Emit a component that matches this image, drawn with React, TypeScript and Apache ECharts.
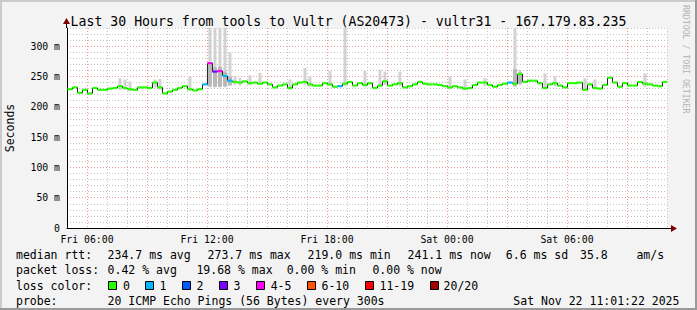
import React, { useEffect, useRef } from 'react';
import * as echarts from 'echarts';

// time in minutes from Fri 00:00
const START_MIN = 301.37; // Fri 05:01:22
const STEP_MIN = 15;

const medianRtt = [
  229, 232, 223, 228, 222, 231, 228, 228, 230, 231, 234, 231, 229, 228, 232, 232, 231, 240, 232, 222,
  225, 228, 231, 234, 229, 227, 229, 237, 272, 258, 259, 251, 243, 241, 240, 242, 239, 240, 238, 240,
  237, 232, 235, 237, 231, 237, 240, 241, 237, 235, 235, 239, 237, 233, 234, 238, 241, 235, 239, 236,
  239, 231, 235, 242, 235, 237, 239, 232, 234, 237, 241, 238, 237, 237, 236, 234, 232, 234, 232, 230,
  231, 236, 240, 240, 236, 233, 236, 238, 240, 238, 254, 241, 243, 243, 239, 231, 237, 239, 235, 232,
  239, 239, 240, 228, 237, 231, 230, 236, 248, 240, 233, 239, 235, 235, 241, 238, 237, 235, 234, 241,
];

const lossCount = [
  0, 0, 0, 0, 0, 0, 0, 0, 0, 0, 0, 0, 0, 0, 0, 0, 0, 0, 0, 0,
  0, 0, 0, 0, 0, 0, 0, 1, 4, 3, 4, 1, 1, 0, 0, 0, 0, 0, 0, 0,
  0, 0, 0, 0, 0, 0, 0, 0, 0, 0, 0, 0, 0, 0, 1, 0, 0, 0, 0, 0,
  0, 0, 0, 0, 0, 0, 0, 0, 0, 0, 0, 0, 0, 0, 0, 0, 0, 0, 0, 0,
  0, 0, 0, 0, 0, 0, 0, 0, 1, 0, 0, 0, 0, 0, 0, 0, 0, 0, 0, 0,
  0, 0, 0, 0, 0, 0, 0, 0, 0, 0, 0, 0, 0, 0, 0, 0, 0, 0, 0, 0,
];

// light smoke (spread of the 20 pings)
const smokeIndex = [10, 11, 12, 17, 18, 24, 28, 29, 30, 31, 32, 33, 34, 36, 38, 44, 47, 48, 52, 55, 59, 62, 63, 66, 76, 79, 83, 89, 90, 95, 97, 103, 105, 115];
const smokeLow = [228, 228, 226, 232, 228, 226, 232, 232, 232, 232, 234, 236, 235, 236, 236, 228, 236, 233, 234, 234, 233, 232, 236, 234, 229, 227, 234, 233, 236, 229, 234, 226, 229, 233];
const smokeHigh = [247, 245, 242, 245, 246, 250, 335, 335, 335, 335, 290, 250, 248, 252, 256, 245, 264, 250, 259, 335, 259, 261, 258, 258, 250, 245, 247, 335, 261, 255, 250, 247, 245, 255];

// darker smoke core
const coreIndex = [28, 29, 30, 31, 32, 89, 90];
const coreLow = [234, 233, 233, 234, 236, 234, 238];
const coreHigh = [270, 265, 266, 258, 250, 262, 257];

const xLabelValues = [360, 720, 1080, 1440, 1800];
const xLabelTexts = ['Fri 06:00', 'Fri 12:00', 'Fri 18:00', 'Sat 00:00', 'Sat 06:00'];
const yLabelValues = [0, 50, 100, 150, 200, 250, 300];
const yLabelTexts = ['0', '50 m', '100 m', '150 m', '200 m', '250 m', '300 m'];

const titleText = 'Last 30 Hours from tools to Vultr (AS20473) - vultr31 - 167.179.83.235';
const rttStats = ['234.7 ms avg', '273.7 ms max', '219.0 ms min', '241.1 ms now', '6.6 ms sd', '35.8', 'am/s'];
const lossStats = ['0.42 % avg', '19.68 % max', '0.00 % min', '0.00 % now'];
const lossLabels = ['0', '1', '2', '3', '4-5', '6-10', '11-19', '20/20'];
const lossColors = ['#26ff00', '#00b8ff', '#0059ff', '#7e00ff', '#ff00ff', '#ff5500', '#ff0000', '#a10000'];
const probeText = '20 ICMP Echo Pings (56 Bytes) every 300s';
const dateText = 'Sat Nov 22 11:01:22 2025';

const MONO = '"DejaVu Sans Mono", monospace';

function colorForLoss(n: number): string {
  if (n <= 0) return lossColors[0];
  if (n === 1) return lossColors[1];
  if (n === 2) return lossColors[2];
  if (n === 3) return lossColors[3];
  if (n <= 5) return lossColors[4];
  if (n <= 10) return lossColors[5];
  if (n <= 19) return lossColors[6];
  return lossColors[7];
}

function buildOption() {
  const medianData = medianRtt.map((v, i) => [
    START_MIN + i * STEP_MIN,
    v,
    lossCount[i],
    i === 0 ? v : medianRtt[i - 1],
  ]);
  const smokeData = smokeIndex.map((k, j) => [START_MIN + k * STEP_MIN, smokeLow[j], smokeHigh[j]]);
  const coreData = coreIndex.map((k, j) => [START_MIN + k * STEP_MIN, coreLow[j], coreHigh[j]]);

  const bandRender = (fill: string, frac: number) => (params: any, api: any) => {
    const t = api.value(0);
    const lo = api.value(1);
    const hi = api.value(2);
    const a = api.coord([t, hi]);
    const b = api.coord([t + STEP_MIN, lo]);
    const w = b[0] - a[0];
    const cs = params.coordSys;
    const top = Math.max(a[1], cs.y);
    return {
      type: 'rect',
      shape: { x: a[0] + (w * (1 - frac)) / 2, y: top, width: w * frac, height: b[1] - top },
      style: { fill },
    };
  };

  const graphics: any[] = [];
  const txt = (text: string, x: number, y: number, size = 11.5, extra: any = {}) =>
    graphics.push({
      type: 'text',
      x,
      y,
      style: { text, font: `${size}px ${MONO}`, fill: '#000', textVerticalAlign: 'middle', ...extra },
      z: 10,
    });

  const rttX = [107.6, 207.6, 307.6, 407.6, 505.8, 580, 636.4];
  const lossX = [107.6, 196.4, 286.7, 372.4];
  const boxX = [108.5, 145.5, 182.5, 219.5, 256.5, 307.5, 365.5, 430.5];
  const boxLabelX = [123, 159.5, 196.5, 233.5, 270.7, 321.5, 379.5, 443.6];
  const L1 = 254.5, L2 = 270, L3 = 285.5, L4 = 301;

  txt('median rtt:', 16, L1);
  rttStats.forEach((s, k) => txt(s, rttX[k], L1));
  txt('packet loss:', 16, L2);
  lossStats.forEach((s, k) => txt(s, lossX[k], L2));
  txt('loss color:', 16, L3);
  lossLabels.forEach((s, k) => {
    graphics.push({
      type: 'rect',
      shape: { x: boxX[k], y: Math.round(L3) - 4.5, width: 8, height: 8 },
      style: { fill: lossColors[k], stroke: '#000', lineWidth: 1 },
      z: 10,
    });
    txt(s, boxLabelX[k], L3);
  });
  txt('probe:', 16, L4);
  txt(probeText, 107.6, L4);
  txt(dateText, 513.3, L4);

  // vertical watermark
  graphics.push({
    type: 'text',
    x: 686,
    y: 5,
    rotation: -Math.PI / 2,
    style: { text: 'RRDTOOL / TOBI OETIKER', font: `8.2px ${MONO}`, fill: '#b4b4b4', textVerticalAlign: 'middle' },
    z: 10,
  });

  // axis arrows
  graphics.push({ type: 'line', shape: { x1: 667, y1: 228.5, x2: 672, y2: 228.5 }, style: { stroke: '#000', lineWidth: 1 }, z: 10 });
  graphics.push({ type: 'polygon', shape: { points: [[671, 225], [677, 228.5], [671, 232]] }, style: { fill: '#7f0000' }, z: 10 });
  graphics.push({ type: 'line', shape: { x1: 66.5, y1: 28, x2: 66.5, y2: 23 }, style: { stroke: '#000', lineWidth: 1 }, z: 10 });
  graphics.push({ type: 'polygon', shape: { points: [[63, 24], [66.5, 18], [70, 24]] }, style: { fill: '#7f0000' }, z: 10 });

  // frame
  graphics.push({ type: 'rect', shape: { x: 0, y: 0, width: 697, height: 2 }, style: { fill: '#cbcbcb' }, z: 10 });
  graphics.push({ type: 'rect', shape: { x: 0, y: 0, width: 2, height: 310 }, style: { fill: '#cbcbcb' }, z: 10 });
  graphics.push({ type: 'rect', shape: { x: 0, y: 308, width: 697, height: 2 }, style: { fill: '#999999' }, z: 10 });
  graphics.push({ type: 'rect', shape: { x: 695, y: 0, width: 2, height: 310 }, style: { fill: '#999999' }, z: 10 });

  const GRAY = '#c4c4c4';
  const RED = '#eb9a9a';

  return {
    animation: false,
    backgroundColor: '#f3f3f3',
    title: {
      text: titleText,
      left: 'center',
      top: 10,
      textStyle: { fontFamily: MONO, fontSize: 13.2, fontWeight: 'normal', color: '#000' },
    },
    grid: {
      left: 67,
      top: 28,
      width: 600,
      height: 200,
      show: true,
      backgroundColor: '#ffffff',
      borderWidth: 0,
      containLabel: false,
      outerBoundsMode: 'none',
    },
    xAxis: {
      type: 'value',
      min: 300,
      max: 2100,
      interval: 60,
      axisLine: { show: true, onZero: false, lineStyle: { color: '#000', width: 1 } },
      axisTick: { show: false },
      axisLabel: {
        show: true,
        margin: 6,
        color: '#000',
        fontFamily: MONO,
        fontSize: 9.8,
        formatter: (v: number) => {
          const k = xLabelValues.indexOf(Math.round(v));
          return k >= 0 ? xLabelTexts[k] : '';
        },
      },
      splitLine: { show: true, lineStyle: { color: [GRAY, RED, GRAY], type: [1, 2], width: 1 } },
    },
    yAxis: {
      type: 'value',
      min: 0,
      max: 330,
      interval: 10,
      name: 'Seconds',
      nameLocation: 'middle',
      nameRotate: 90,
      nameGap: 51,
      nameTextStyle: { fontFamily: MONO, fontSize: 11.5, color: '#000' },
      axisLine: { show: true, lineStyle: { color: '#000', width: 1 } },
      axisTick: { show: false },
      axisLabel: {
        margin: 7,
        color: '#000',
        fontFamily: MONO,
        fontSize: 9.8,
        formatter: (v: number) => {
          const k = yLabelValues.indexOf(Math.round(v));
          return k >= 0 ? yLabelTexts[k] : '';
        },
      },
      splitLine: { show: true, lineStyle: { color: [RED, GRAY, GRAY, GRAY, GRAY], type: [1, 2], width: 1 } },
    },
    series: [
      { type: 'custom', name: 'smoke', renderItem: bandRender('#d2d2d2', 0.6), data: smokeData, clip: true, z: 2 },
      { type: 'custom', name: 'core', renderItem: bandRender('#b8b8b8', 0.8), data: coreData, clip: true, z: 3 },
      {
        type: 'custom',
        name: 'median',
        z: 4,
        clip: true,
        data: medianData,
        renderItem: (params: any, api: any) => {
          const t = api.value(0);
          const v = api.value(1);
          const loss = api.value(2);
          const prev = api.value(3);
          const a = api.coord([t, v]);
          const b = api.coord([t + STEP_MIN, v]);
          const p = api.coord([t, prev]);
          return {
            type: 'group',
            children: [
              { type: 'line', shape: { x1: a[0], y1: p[1], x2: a[0], y2: a[1] }, style: { stroke: '#202020', lineWidth: 1 } },
              { type: 'line', shape: { x1: a[0], y1: a[1], x2: b[0], y2: b[1] }, style: { stroke: colorForLoss(loss), lineWidth: 2.2 } },
            ],
          };
        },
      },
    ],
    graphic: graphics,
  };
}

export default function App() {
  const ref = useRef<HTMLDivElement>(null);
  useEffect(() => {
    if (!ref.current) return;
    const chart = echarts.init(ref.current, null, { renderer: 'svg' });
    chart.setOption(buildOption() as any);
    return () => chart.dispose();
  }, []);
  return <div ref={ref} style={{ position: 'absolute', left: 0, top: 0, width: 697, height: 310 }} />;
}
